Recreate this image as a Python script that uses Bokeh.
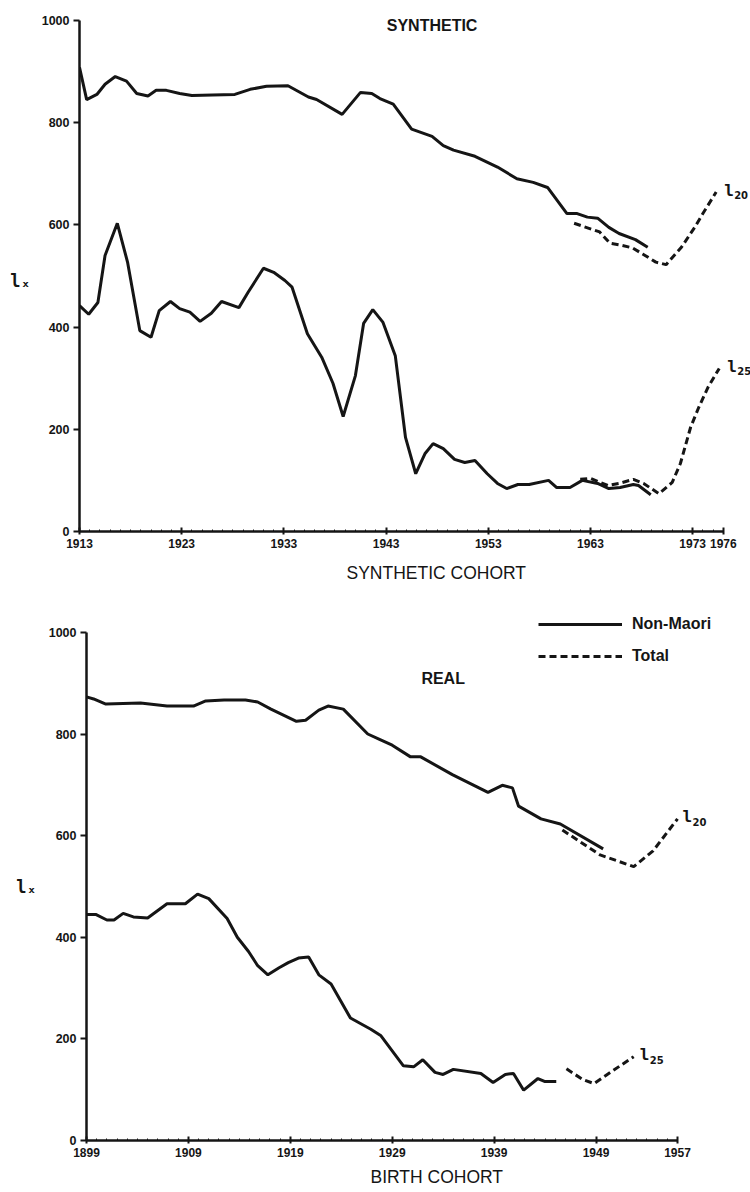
from bokeh.plotting import figure
from bokeh.models import Range1d, FixedTicker, Label, Legend, LegendItem, Title
from bokeh.embed import file_html
from bokeh.resources import INLINE

# ---------------- Synthetic cohorts ----------------
syn_l20_nm_x = [1913.0, 1913.7, 1914.7, 1915.5, 1916.5, 1917.6, 1918.6, 1919.7, 1920.5, 1921.5,
                1922.8, 1924.0, 1926.0, 1928.2, 1929.7, 1931.3, 1933.4, 1935.4, 1936.2, 1938.7,
                1940.5, 1941.6, 1942.4, 1943.7, 1945.5, 1947.5, 1948.6, 1949.6, 1951.7, 1953.9,
                1955.8, 1957.4, 1958.8, 1960.7, 1961.7, 1962.7, 1963.7, 1964.8, 1965.8, 1967.4,
                1968.6]
syn_l20_nm_y = [908, 845, 855, 875, 890, 881, 857, 852, 863, 863,
                857, 853, 854, 855, 865, 871, 872, 850, 845, 816,
                859, 857, 847, 836, 787, 773, 755, 746, 734, 713,
                690, 683, 673, 622, 622, 615, 613, 595, 583, 571,
                556]

syn_l20_tot_x = [1961.4, 1963.9, 1964.9, 1966.0, 1967.1, 1968.1, 1969.4, 1970.4, 1971.9, 1973.2,
                 1974.0, 1975.3]
syn_l20_tot_y = [603, 586, 564, 560, 555, 543, 527, 522, 556, 595,
                 622, 664]

syn_l25_nm_x = [1913.0, 1913.9, 1914.8, 1915.5, 1916.7, 1917.7, 1918.9, 1920.0, 1920.8, 1921.9,
                1922.8, 1923.8, 1924.8, 1925.9, 1926.9, 1928.6, 1929.5, 1931.0, 1932.0, 1933.1,
                1933.8, 1935.3, 1936.7, 1937.8, 1938.8, 1940.0, 1940.8, 1941.7, 1942.7, 1943.9,
                1944.9, 1945.9, 1946.8, 1947.6, 1948.6, 1949.7, 1950.7, 1951.7, 1952.9, 1953.9,
                1954.8, 1955.9, 1957.0, 1958.9, 1959.7, 1961.0, 1962.2, 1963.7, 1964.8, 1965.9,
                1967.2, 1967.7, 1968.9]
syn_l25_nm_y = [442, 425, 448, 540, 603, 527, 393, 380, 432, 450,
                436, 429, 411, 427, 450, 438, 468, 515, 507, 491,
                478, 387, 341, 290, 225, 305, 407, 434, 409, 344,
                184, 113, 152, 172, 162, 141, 135, 139, 113, 94,
                84, 92, 92, 100, 86, 86, 100, 94, 84, 86,
                92, 90, 72]

syn_l25_tot_x = [1962.0, 1963.0, 1964.7, 1965.8, 1967.2, 1968.2, 1969.7, 1971.0, 1971.8, 1972.8,
                 1973.6, 1974.5, 1975.6]
syn_l25_tot_y = [102, 104, 90, 94, 102, 94, 74, 96, 133, 204,
                 243, 282, 319]

syn_ticks = [1913, 1923, 1933, 1943, 1953, 1963, 1973, 1976]

# ---------------- Real (birth) cohorts ----------------
real_l20_nm_x = [1899.0, 1899.7, 1900.9, 1904.3, 1906.9, 1909.5, 1910.7, 1912.5, 1914.6, 1915.8,
                 1917.1, 1919.6, 1920.5, 1921.8, 1922.7, 1924.2, 1926.6, 1927.7, 1929.0, 1930.8,
                 1931.8, 1934.9, 1938.4, 1939.8, 1940.8, 1941.4, 1943.6, 1945.5, 1949.7]
real_l20_nm_y = [873, 869, 859, 861, 855, 855, 865, 867, 867, 863,
                 849, 825, 827, 847, 855, 849, 800, 790, 778, 755,
                 755, 720, 685, 699, 694, 658, 633, 623, 574]

real_l20_tot_x = [1945.7, 1949.4, 1952.7, 1954.6, 1957.0]
real_l20_tot_y = [611, 562, 539, 570, 633]

real_l25_nm_x = [1899.0, 1899.9, 1901.0, 1901.7, 1902.6, 1903.6, 1905.0, 1906.9, 1908.7, 1909.9,
                 1911.0, 1912.8, 1913.8, 1914.9, 1915.8, 1916.8, 1917.9, 1918.8, 1919.8, 1920.8,
                 1921.8, 1923.0, 1924.9, 1926.9, 1927.9, 1930.1, 1931.1, 1932.0, 1933.2, 1934.0,
                 1935.0, 1937.7, 1938.9, 1940.1, 1940.9, 1941.9, 1943.3, 1944.0, 1945.1]
real_l25_nm_y = [445, 445, 434, 434, 447, 440, 438, 466, 466, 485,
                 476, 437, 400, 372, 344, 326, 340, 350, 359, 361,
                 326, 308, 241, 219, 206, 147, 145, 159, 134, 130,
                 140, 132, 114, 130, 132, 99, 122, 116, 116]

real_l25_tot_x = [1946.1, 1947.7, 1948.8, 1950.4, 1952.7]
real_l25_tot_y = [141, 120, 112, 134, 165]

real_ticks = [1899, 1909, 1919, 1929, 1939, 1949, 1957]

y_ticks = [0, 200, 400, 600, 800, 1000]

INK = "#151515"
SANS = "Liberation Sans"
DASH = "7 4"
LW = 3


def base_figure(height, x0, x1, y1, left, top, bottom, ticks, ylabel_standoff):
    p = figure(width=750, height=height,
               x_range=Range1d(x0, x1), y_range=Range1d(0, y1),
               output_backend="svg", toolbar_location=None,
               min_border_left=left, min_border_right=0,
               min_border_top=top, min_border_bottom=bottom,
               outline_line_color=None, background_fill_color="white",
               border_fill_color="white")
    p.grid.visible = False

    xa = p.xaxis[0]
    xa.ticker = FixedTicker(ticks=ticks, minor_ticks=list(range(ticks[0], ticks[-1] + 1)))
    xa.bounds = (ticks[0], ticks[-1])
    xa.axis_line_width = 2.5
    xa.axis_line_color = INK
    xa.major_tick_line_width = 2
    xa.major_tick_line_color = INK
    xa.major_tick_in = 4
    xa.major_tick_out = 3
    xa.minor_tick_line_color = INK
    xa.minor_tick_line_width = 1
    xa.minor_tick_in = 2
    xa.minor_tick_out = 0
    xa.major_label_standoff = 4
    xa.major_label_text_font = SANS
    xa.major_label_text_font_size = "12px"
    xa.major_label_text_font_style = "bold"
    xa.major_label_text_color = INK

    ya = p.yaxis[0]
    ya.ticker = FixedTicker(ticks=y_ticks)
    ya.bounds = (0, 1000)
    ya.axis_line_width = 2.5
    ya.axis_line_color = INK
    ya.major_tick_line_width = 2
    ya.major_tick_line_color = INK
    ya.major_tick_in = 0
    ya.major_tick_out = 6
    ya.minor_tick_line_color = None
    ya.major_label_standoff = 4
    ya.major_label_text_font = SANS
    ya.major_label_text_font_size = "12.5px"
    ya.major_label_text_font_style = "bold"
    ya.major_label_text_color = INK
    # leading blank line drops the symbol a little below the frame's middle
    ya.axis_label = "\nl\u2093"
    ya.axis_label_orientation = "horizontal"
    ya.axis_label_standoff = ylabel_standoff
    ya.axis_label_text_font = "DejaVu Sans Mono"
    ya.axis_label_text_font_size = "17px"
    ya.axis_label_text_font_style = "bold"
    ya.axis_label_text_color = INK
    return p


def series_label(p, x, y, sub, dx):
    p.add_layout(Label(x=x, y=y, x_offset=dx, y_offset=2, text="l",
                       text_font="DejaVu Sans Mono", text_font_size="16px",
                       text_font_style="bold", text_color=INK,
                       text_baseline="middle", text_align="left"))
    p.add_layout(Label(x=x, y=y, x_offset=dx + 10, y_offset=-3, text=sub,
                       text_font="DejaVu Sans", text_font_size="10px",
                       text_font_style="bold", text_color=INK,
                       text_baseline="middle", text_align="left"))


def heading(p, x, y, text):
    p.add_layout(Label(x=x, y=y, text=text, text_font=SANS, text_font_size="16px",
                       text_font_style="bold", text_color=INK,
                       text_baseline="middle", text_align="center"))


def axis_title(p, text, offset, standoff):
    p.add_layout(Title(text=text, align="left", offset=offset, standoff=standoff,
                       text_font=SANS, text_font_size="17.5px",
                       text_font_style="normal", text_color=INK), "below")


# ---------------- upper panel: synthetic cohort ----------------
top = base_figure(598, 1913, 1978.66, 1029, 79, 5, 67, syn_ticks, 8)
top.line(syn_l20_nm_x, syn_l20_nm_y, line_width=LW, line_color=INK)
top.line(syn_l25_nm_x, syn_l25_nm_y, line_width=LW, line_color=INK)
top.line(syn_l20_tot_x, syn_l20_tot_y, line_width=LW, line_color=INK, line_dash=DASH)
top.line(syn_l25_tot_x, syn_l25_tot_y, line_width=LW, line_color=INK, line_dash=DASH)
series_label(top, syn_l20_tot_x[-1], syn_l20_tot_y[-1], "20", 8)
series_label(top, syn_l25_tot_x[-1], syn_l25_tot_y[-1], "25", 8)
heading(top, 1947.5, 990, "SYNTHETIC")
axis_title(top, "SYNTHETIC COHORT", 267, 20)

# ---------------- lower panel: birth cohort ----------------
bot = base_figure(594, 1899, 1964.16, 1047, 86, 10, 51, real_ticks, 9)
r_nm = bot.line(real_l20_nm_x, real_l20_nm_y, line_width=LW, line_color=INK)
bot.line(real_l25_nm_x, real_l25_nm_y, line_width=LW, line_color=INK)
r_tot = bot.line(real_l20_tot_x, real_l20_tot_y, line_width=LW, line_color=INK, line_dash=DASH)
bot.line(real_l25_tot_x, real_l25_tot_y, line_width=LW, line_color=INK, line_dash=DASH)
series_label(bot, real_l20_tot_x[-1], real_l20_tot_y[-1], "20", 5)
series_label(bot, real_l25_tot_x[-1], real_l25_tot_y[-1], "25", 6)
heading(bot, 1934.0, 910, "REAL")
axis_title(bot, "BIRTH COHORT", 284, 11)

legend = Legend(items=[LegendItem(label="Non-Maori", renderers=[r_nm]),
                       LegendItem(label="Total", renderers=[r_tot])],
                location=(452, 474), border_line_color=None,
                background_fill_alpha=0, glyph_width=84, glyph_height=20,
                label_height=20, label_standoff=10, spacing=12, padding=0, margin=0,
                label_text_font=SANS, label_text_font_size="16px",
                label_text_font_style="bold", label_text_color=INK)
bot.add_layout(legend)

open("out.html", "w").write(file_html([top, bot], INLINE))
